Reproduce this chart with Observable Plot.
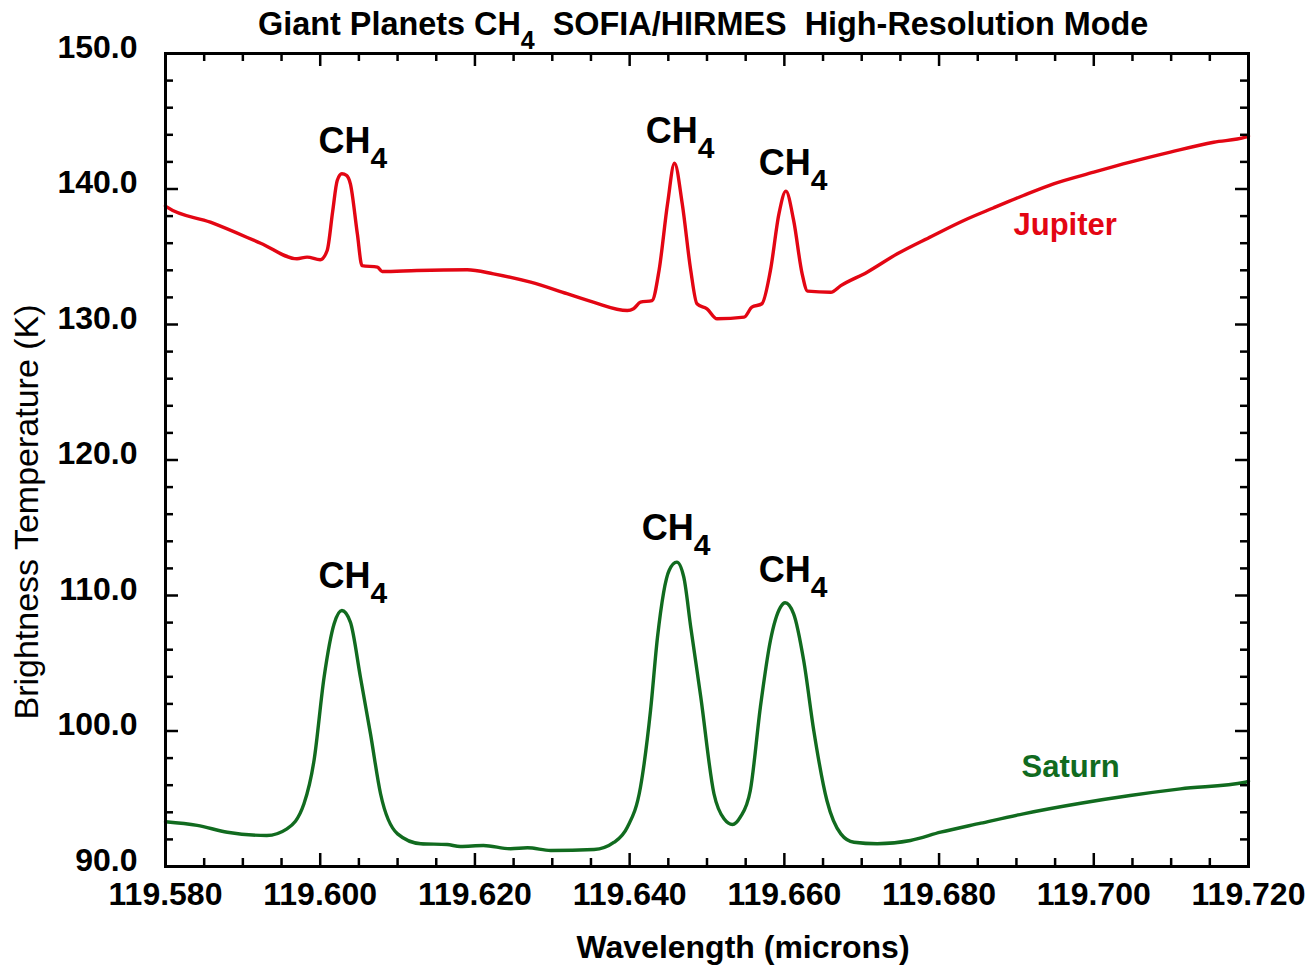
<!DOCTYPE html>
<html>
<head>
<meta charset="utf-8">
<script src="https://cdn.jsdelivr.net/npm/d3@7"></script>
<script src="https://cdn.jsdelivr.net/npm/@observablehq/plot@0.6"></script>
<style>
  body { margin: 0; background: #fff; }
  #wrap { position: relative; width: 1316px; height: 966px; font-family: "Liberation Sans", Arial, Helvetica, sans-serif; }
  #title { position: absolute; left: 258px; top: 8px; font-size: 32.4px; font-weight: bold; line-height: 32px; white-space: pre; color: #000; z-index: 2; }
  #title .sub { font-size: 25px; position: relative; top: 14px; }
</style>
</head>
<body>
<div id="wrap">
  <div id="title">Giant Planets CH<span class="sub">4</span>  SOFIA/HIRMES  High-Resolution Mode</div>
</div>
<script>
// ---- Data ----
const jupWave = [119.5800, 119.5802, 119.5858, 119.5923, 119.5970, 119.5983, 119.6000, 119.6009, 119.6016, 119.6022,
  119.6028, 119.6034, 119.6039, 119.6048, 119.6054, 119.6074, 119.6080, 119.6125, 119.6190, 119.6224,
  119.6272, 119.6319, 119.6353, 119.6397, 119.6405, 119.6414, 119.6429, 119.6438, 119.6449, 119.6458,
  119.6468, 119.6479, 119.6487, 119.6500, 119.6513, 119.6548, 119.6558, 119.6571, 119.6582, 119.6593,
  119.6602, 119.6612, 119.6623, 119.6630, 119.6660, 119.6673, 119.6707, 119.6746, 119.6790, 119.6832,
  119.6870, 119.6909, 119.6948, 119.7000, 119.7047, 119.7099, 119.7155, 119.7196, 119.7200];
const jupTemp = [138.75, 138.66, 137.55, 136.00, 134.85, 134.97, 134.78, 135.46, 138.3, 140.63,
  141.12, 141.0, 140.38, 136.69, 134.35, 134.23, 133.91, 133.99, 134.04, 133.74,
  133.12, 132.27, 131.65, 131.03, 131.16, 131.65, 131.77, 133.99, 138.91, 141.90,
  138.91, 133.99, 131.53, 131.16, 130.42, 130.54, 131.28, 131.53, 133.99, 138.17,
  139.84, 137.68, 133.74, 132.46, 132.38, 132.87, 133.86, 135.22, 136.5, 137.68,
  138.6, 139.52, 140.38, 141.24, 141.98, 142.72, 143.45, 143.82, 143.9];

const satWave = [119.5800, 119.5841, 119.5880, 119.5931, 119.5957, 119.5979, 119.5992, 119.6005, 119.6018, 119.6028,
  119.6039, 119.6052, 119.6065, 119.6078, 119.6100, 119.6130, 119.6164, 119.6181, 119.6211, 119.6246,
  119.6268, 119.6298, 119.6354, 119.6380, 119.6397, 119.6414, 119.6427, 119.6436, 119.6451, 119.6461,
  119.6470, 119.6479, 119.6492, 119.6509, 119.6522, 119.6533, 119.6543, 119.6556, 119.6569, 119.6582,
  119.6595, 119.6601, 119.6612, 119.6625, 119.6638, 119.6655, 119.6673, 119.6690, 119.6720, 119.6763,
  119.6802, 119.6854, 119.6909, 119.6983, 119.7047, 119.7112, 119.7196, 119.7200];
const satTemp = [93.3, 93.03, 92.53, 92.29, 92.78, 94.63, 97.82, 103.97, 107.91, 108.89,
  108.03, 103.97, 99.79, 95.37, 92.41, 91.68, 91.62, 91.48, 91.55, 91.31,
  91.38, 91.18, 91.25, 91.79, 92.90, 95.85, 101.51, 106.92, 111.85, 112.46,
  111.35, 107.66, 102.49, 95.37, 93.52, 93.10, 93.64, 95.61, 101.76, 106.68,
  109.14, 109.46, 108.65, 105.20, 100.04, 94.87, 92.41, 91.79, 91.68, 91.92,
  92.53, 93.20, 93.89, 94.67, 95.24, 95.73, 96.22, 96.3];

// CH4 line annotations (anchor = end of "CH", baseline)
const ch4LabelWave = [119.6065, 119.6488, 119.6634, 119.6065, 119.6483, 119.6634];
const ch4LabelTemp = [142.62, 143.36, 141.0, 110.52, 114.06, 110.96];

const seriesNames = ["Jupiter", "Saturn"];
const seriesLabelWave = [119.6963, 119.6970];
const seriesLabelTemp = [136.57, 96.57];

// Tick values
const xMajor = [119.58, 119.60, 119.62, 119.64, 119.66, 119.68, 119.70, 119.72];
const xMinor = [119.585, 119.590, 119.595, 119.605, 119.610, 119.615, 119.625, 119.630, 119.635,
  119.645, 119.650, 119.655, 119.665, 119.670, 119.675, 119.685, 119.690, 119.695, 119.705, 119.710, 119.715];
const yMajor = [90, 100, 110, 120, 130, 140, 150];
const yMinor = [92, 94, 96, 98, 102, 104, 106, 108, 112, 114, 116, 118, 122, 124, 126, 128, 132, 134, 136, 138, 142, 144, 146, 148];

const xLabel = "Wavelength (microns)";
const yLabel = "Brightness Temperature (K)";

// ---- Build ----
const RED = "#e30613";
const GREEN = "#116b1f";
const FONT = "'Liberation Sans', Arial, Helvetica, sans-serif";

const jupiter = jupWave.map((w, i) => ({w, t: jupTemp[i]}));
const saturn = satWave.map((w, i) => ({w, t: satTemp[i]}));
const ch4 = ch4LabelWave.map((w, i) => ({w, t: ch4LabelTemp[i]}));
const seriesLabels = seriesNames.map((name, i) => ({name, w: seriesLabelWave[i], t: seriesLabelTemp[i], color: i === 0 ? RED : GREEN}));

const W = 1316, H = 966, mt = 53, mr = 68, mb = 100, ml = 165;
const fh = H - mt - mb, fw = W - ml - mr;
const majorLen = 13, minorLen = 8, tickW = 2.5;

const chart = Plot.plot({
  width: W, height: H,
  marginTop: mt, marginRight: mr, marginBottom: mb, marginLeft: ml,
  style: {fontFamily: FONT, background: "white", overflow: "visible", color: "black"},
  x: {domain: [119.58, 119.72]},
  y: {domain: [90, 150]},
  marks: [
    Plot.line(jupiter, {x: "w", y: "t", stroke: RED, strokeWidth: 3.4, curve: "monotone-x"}),
    Plot.line(saturn, {x: "w", y: "t", stroke: GREEN, strokeWidth: 3.4, curve: "monotone-x"}),
    // inward ticks on all four sides
    Plot.tickX(xMajor, {x: d => d, insetTop: fh - majorLen, strokeWidth: tickW}),
    Plot.tickX(xMajor, {x: d => d, insetBottom: fh - majorLen, strokeWidth: tickW}),
    Plot.tickX(xMinor, {x: d => d, insetTop: fh - minorLen, strokeWidth: tickW}),
    Plot.tickX(xMinor, {x: d => d, insetBottom: fh - minorLen, strokeWidth: tickW}),
    Plot.tickY(yMajor, {y: d => d, insetRight: fw - majorLen, strokeWidth: tickW}),
    Plot.tickY(yMajor, {y: d => d, insetLeft: fw - majorLen, strokeWidth: tickW}),
    Plot.tickY(yMinor, {y: d => d, insetRight: fw - minorLen, strokeWidth: tickW}),
    Plot.tickY(yMinor, {y: d => d, insetLeft: fw - minorLen, strokeWidth: tickW}),
    Plot.frame({strokeWidth: 3}),
    Plot.axisX(xMajor, {tickSize: 0, tickPadding: 16, tickFormat: d3.format(".3f"), fontSize: 32, fontWeight: "bold", label: null}),
    Plot.axisY(yMajor, {tickSize: 0, tickPadding: 28, tickFormat: d3.format(".1f"), fontSize: 32, fontWeight: "bold", dy: -6, label: null}),
    // axis titles
    Plot.text([xLabel], {text: d => d, frameAnchor: "bottom", dx: 36, dy: 91, lineAnchor: "bottom", textAnchor: "middle", fontSize: 32, fontWeight: "bold"}),
    Plot.text([yLabel], {text: d => d, frameAnchor: "left", rotate: -90, dx: -128, dy: 52, lineAnchor: "bottom", textAnchor: "middle", fontSize: 34}),
    // CH4 annotations
    Plot.text(ch4, {x: "w", y: "t", text: () => "CH", textAnchor: "end", lineAnchor: "bottom", fontSize: 36, fontWeight: "bold"}),
    Plot.text(ch4, {x: "w", y: "t", text: () => "4", textAnchor: "start", lineAnchor: "bottom", dy: 15, fontSize: 30, fontWeight: "bold"}),
    // series labels
    Plot.text(seriesLabels, {x: "w", y: "t", text: "name", fill: "color", textAnchor: "middle", lineAnchor: "bottom", fontSize: 31, fontWeight: "bold"})
  ]
});
chart.style.position = "absolute";
chart.style.left = "0px";
chart.style.top = "0px";
document.getElementById("wrap").appendChild(chart);
</script>
</body>
</html>
